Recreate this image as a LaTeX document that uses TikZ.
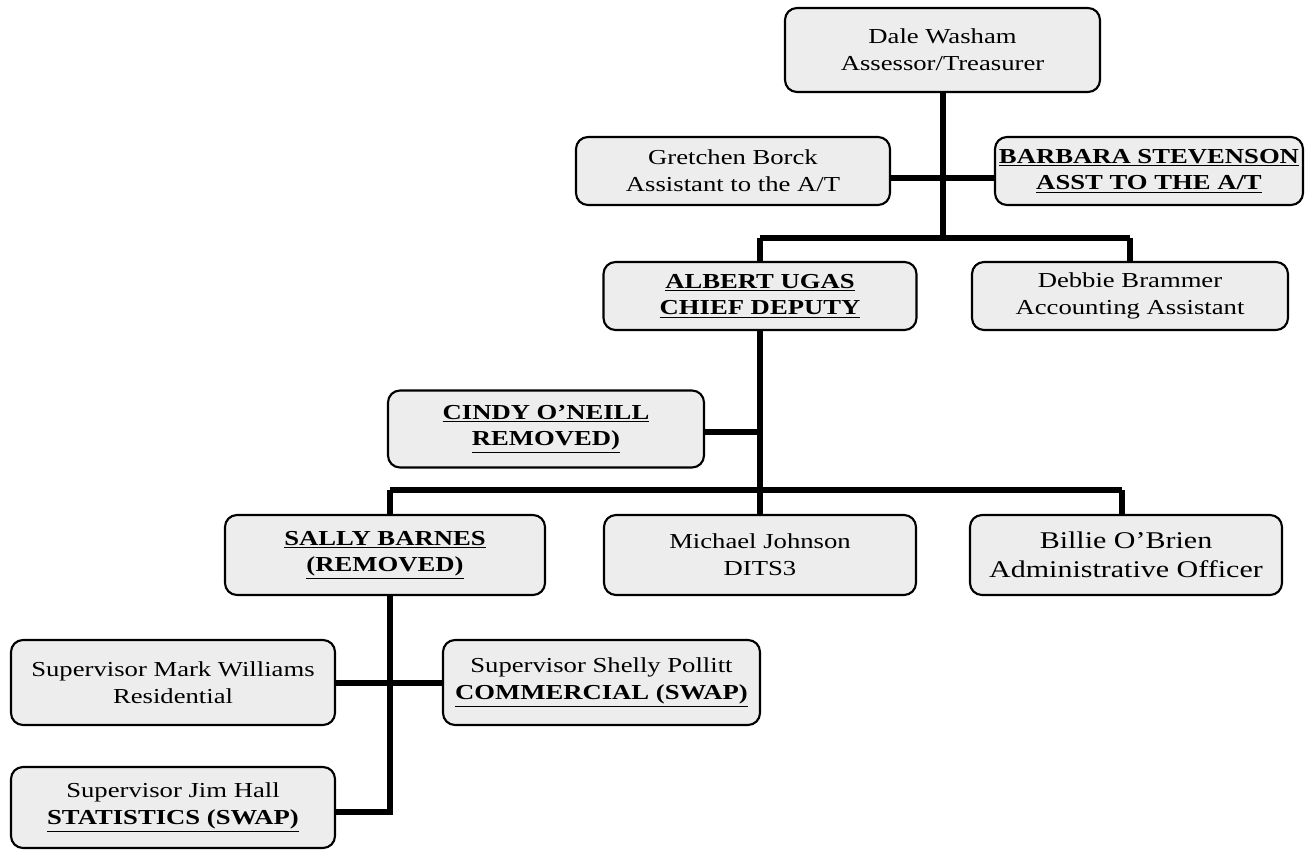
\documentclass[tikz,border=0pt]{standalone}
\usepackage{fontspec}
\setmainfont{Liberation Serif}[FakeStretch=1.25]
\begin{document}
\begin{tikzpicture}[x=0.75pt,y=-0.75pt]
\tikzset{
  box/.style={draw, line width=1.6pt, rounded corners=9pt, fill=gray!14, align=center, inner sep=0pt,
    font=\fontsize{16}{20}\selectfont},
  sz/.style 2 args={minimum width=#1*0.75pt, minimum height=#2*0.75pt},
  conn/.style={line width=3.8pt},
  ul/.style={font=\fontsize{16}{20}\selectfont\bfseries}
}
\useasboundingbox (0,0) rectangle (1315,850);
% nodes
\node[box, sz={315}{84}] (dale) at (942.5,50) {Dale Washam\\Assessor/Treasurer};
\node[box, sz={314}{68}] (gretchen) at (733,171) {Gretchen Borck\\Assistant to the A/T};
\node[box, ul, sz={308}{68}] (barbara) at (1149,171) {\underline{BARBARA STEVENSON}\\\underline{ASST TO THE A/T}};
\node[box, ul, sz={313}{68}] (albert) at (760,296) {\underline{ALBERT UGAS}\\\underline{CHIEF DEPUTY}};
\node[box, sz={316}{68}] (debbie) at (1130,296) {Debbie Brammer\\Accounting Assistant};
\node[box, ul, sz={316}{77}] (cindy) at (546,429) {\underline{CINDY O’NEILL}\\\underline{REMOVED)}};
\node[box, ul, sz={320}{80}] (sally) at (385,555) {\underline{SALLY BARNES}\\\underline{(REMOVED)}};
\node[box, sz={312}{80}] (michael) at (760,555) {Michael Johnson\\DITS3};
\node[box, sz={312}{80}, font=\fontsize{18}{22}\selectfont] (billie) at (1126,555) {Billie O’Brien\\Administrative Officer};
\node[box, sz={324}{85}] (mark) at (173,682.5) {Supervisor Mark Williams\\Residential};
\node[box, sz={317}{85}] (shelly) at (601.5,682.5) {Supervisor Shelly Pollitt\\\textbf{\underline{COMMERCIAL (SWAP)}}};
\node[box, sz={324}{81}] (jim) at (173,807.5) {Supervisor Jim Hall\\\textbf{\underline{STATISTICS (SWAP)}}};
% junctions
\coordinate (j1) at (943,178);
\coordinate (j2) at (943,238);
\coordinate (j2l) at (760,238);
\coordinate (j2r) at (1130,238);
\coordinate (j3) at (760,432);
\coordinate (j4) at (760,490);
\coordinate (j4l) at (390,490);
\coordinate (j4r) at (1122,490);
\coordinate (j5) at (390,683);
\coordinate (j6) at (390,812);
% connectors
\draw[conn] (dale.south -| j1) -- (j2);
\draw[conn] (gretchen.east |- j1) -- (barbara.west |- j1);
\draw[conn] (j2l) -- (j2r);
\draw[conn] (j2l) -- (albert.north);
\draw[conn] (j2r) -- (j2r |- debbie.north);
\draw[conn] (albert.south) -- (j4);
\draw[conn] (cindy.east |- j3) -- (j3);
\draw[conn] (j4l) -- (j4r);
\draw[conn] (j4l) -- (j4l |- sally.north);
\draw[conn] (j4) -- (j4 |- michael.north);
\draw[conn] (j4r) -- (j4r |- billie.north);
\draw[conn] (j4l |- sally.south) -- (j6) -- (jim.east |- j6);
\draw[conn] (mark.east |- j5) -- (shelly.west |- j5);
\end{tikzpicture}
\end{document}
